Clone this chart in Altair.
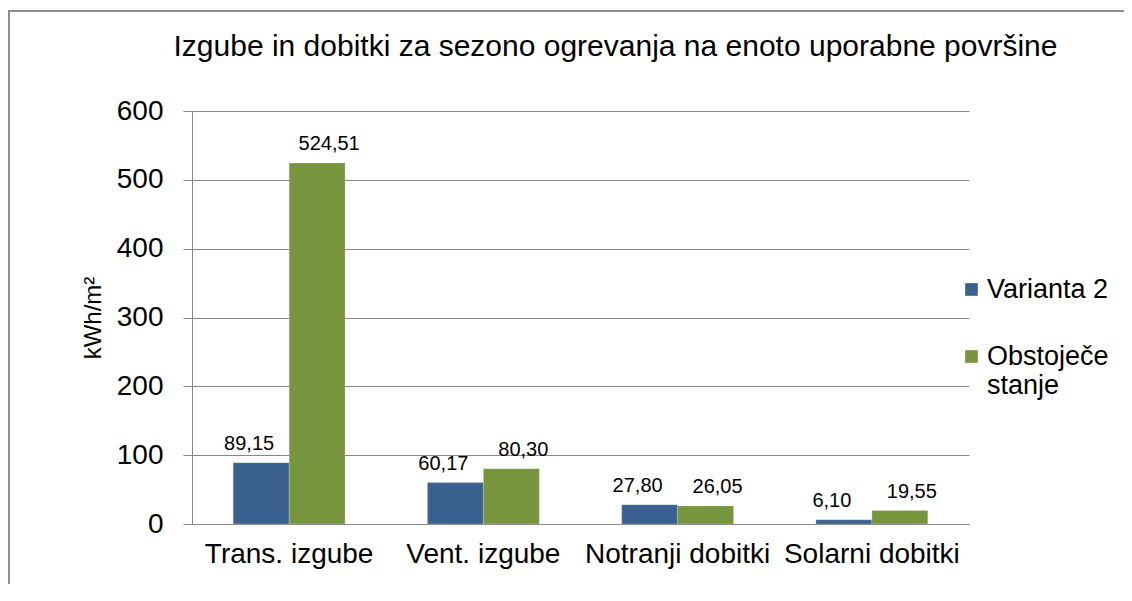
import altair as alt
import pandas as pd

categories = ["Trans. izgube", "Vent. izgube", "Notranji dobitki", "Solarni dobitki"]
series = ["Varianta 2", "Obstoječe stanje"]
varianta_2 = [89.15, 60.17, 27.80, 6.10]
obstojece = [524.51, 80.30, 26.05, 19.55]
colors = ["#3A6190", "#77953D"]

rows = []
for c, v in zip(categories, varianta_2):
    rows.append({"cat": c, "serija": series[0], "val": v})
for c, v in zip(categories, obstojece):
    rows.append({"cat": c, "serija": series[1], "val": v})
df = pd.DataFrame(rows)

FONT = "Liberation Sans"

x = alt.X("cat:N", sort=categories, title=None,
          scale=alt.Scale(paddingInner=0.424, paddingOuter=0.212),
          axis=alt.Axis(labelAngle=0, labelFontSize=28, labelColor="#000000",
                        labelPadding=16, ticks=False, domainColor="#878787",
                        labelFont=FONT, labelLimit=300))
y = alt.Y("val:Q", title="kWh/m²",
          scale=alt.Scale(domain=[0, 600], nice=False),
          axis=alt.Axis(values=[0, 100, 200, 300, 400, 500, 600], labelFontSize=28,
                        labelColor="#000000", tickSize=9, tickColor="#878787",
                        domainColor="#878787", gridColor="#878787", labelPadding=20,
                        titleFontSize=24, titleFontWeight="normal", titleColor="#000000",
                        titlePadding=11, labelFont=FONT, titleFont=FONT))
xo = alt.XOffset("serija:N", sort=series, scale=alt.Scale(domain=series))

base = alt.Chart(df)

bars = base.mark_bar(stroke="#ffffff", strokeOpacity=0.25, strokeWidth=0.8).encode(
    x=x, y=y, xOffset=xo,
    color=alt.Color("serija:N", sort=series,
                    scale=alt.Scale(domain=series, range=colors),
                    legend=alt.Legend(title=None, orient="none", legendX=766, legendY=165,
                                      symbolType="square", symbolSize=160,
                                      symbolStrokeWidth=0, labelFontSize=27,
                                      labelFont=FONT, labelColor="#000000",
                                      rowPadding=39, labelOffset=2,
                                      labelLimit=300,
                                      labelExpr="datum.label == 'Obstoječe stanje' ? ['Obstoječe', 'stanje'] : datum.label")),
)

lbl = "replace(format(datum.val, '.2f'), '.', ',')"

text_v = base.transform_filter(alt.datum.serija == series[0]).transform_calculate(
    lab=lbl).mark_text(baseline="bottom", dy=-9, dx=-12, fontSize=20, font=FONT,
                       color="#000000").encode(x=x, y=y, xOffset=xo, text="lab:N")
text_o = base.transform_filter(alt.datum.serija == series[1]).transform_calculate(
    lab=lbl).mark_text(baseline="bottom", dy=-9, dx=12, fontSize=20, font=FONT,
                       color="#000000").encode(x=x, y=y, xOffset=xo, text="lab:N")

frame_src = pd.DataFrame({"k": [0]})
frame_top = alt.Chart(frame_src).mark_rule(stroke="#8f8f8f", strokeWidth=2).encode(
    x=alt.value(-184), x2=alt.value(932), y=alt.value(-100))
frame_left = alt.Chart(frame_src).mark_rule(stroke="#8f8f8f", strokeWidth=2).encode(
    x=alt.value(-183), y=alt.value(-101), y2=alt.value(473))

chart = alt.layer(frame_top, frame_left, bars, text_v, text_o).properties(
    width=777, height=413,
    autosize=alt.AutoSizeParams(type="none"),
    padding={"left": 184, "top": 103, "right": 155, "bottom": 60},
    title=alt.TitleParams("Izgube in dobitki za sezono ogrevanja na enoto uporabne površine",
                          fontSize=30, fontWeight="normal", font=FONT, color="#000000",
                          anchor="middle", dx=35, offset=-53),
).configure_view(stroke=None).configure_axis(grid=True).configure_axisX(grid=False)

chart.save("out.html", embed_options={"renderer": "svg", "actions": False})
